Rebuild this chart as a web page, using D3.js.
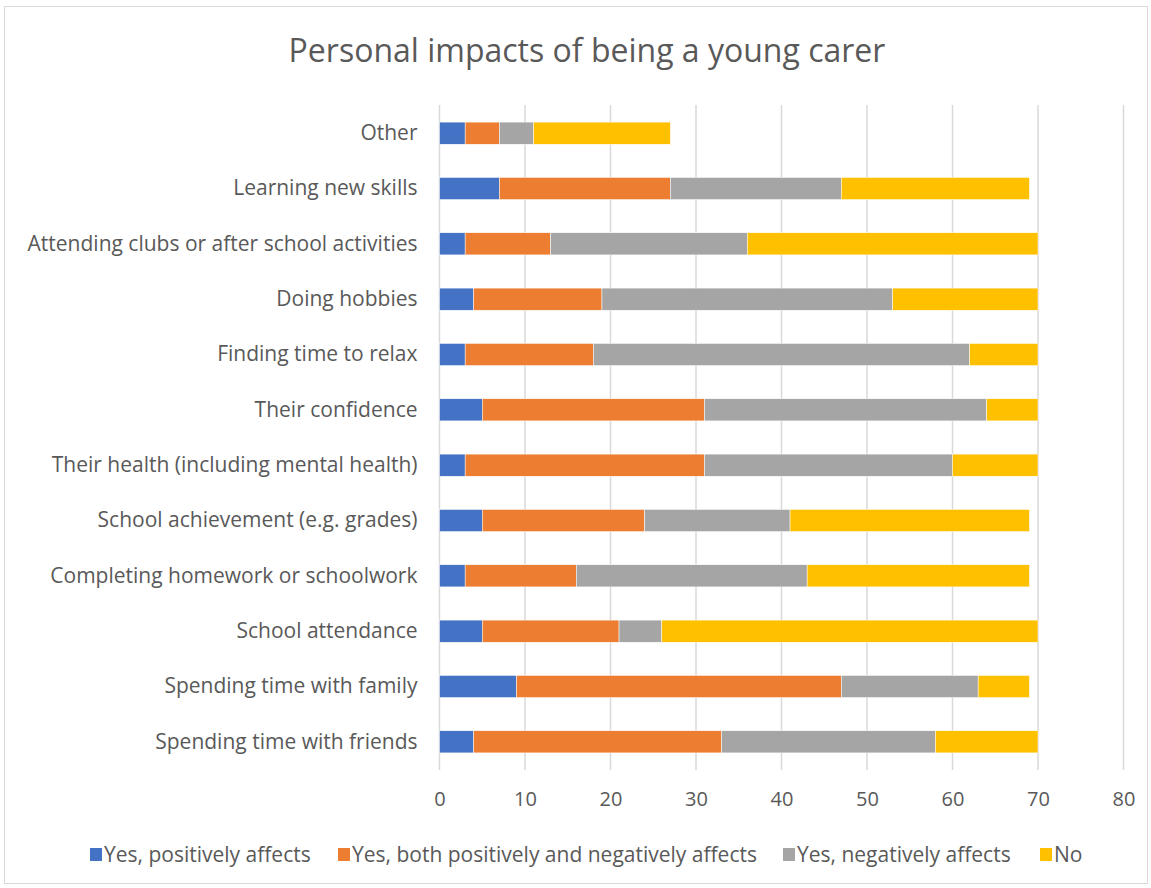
<!DOCTYPE html>
<html><head><meta charset="utf-8">
<script src="https://cdn.jsdelivr.net/npm/d3@7"></script>
<style>html,body{margin:0;padding:0;background:#fff;}</style>
</head><body>
<svg id="chart" width="1151" height="888"></svg>
<script>
const categories = ["Other","Learning new skills","Attending clubs or after school activities","Doing hobbies","Finding time to relax","Their confidence","Their health (including mental health)","School achievement (e.g. grades)","Completing homework or schoolwork","School attendance","Spending time with family","Spending time with friends"];
const seriesNames = ["Yes, positively affects","Yes, both positively and negatively affects","Yes, negatively affects","No"];
const positive = [3,7,3,4,3,5,3,5,3,5,9,4];
const both     = [4,20,10,15,15,26,28,19,13,16,38,29];
const negative = [4,20,23,34,44,33,29,17,27,5,16,25];
const no       = [16,22,34,17,8,6,10,28,26,44,6,12];
const tickValues = [0,10,20,30,40,50,60,70,80];
const colors = ["#4472C4","#ED7D31","#A5A5A5","#FFC000"];

const rows = categories.map((c,i)=>({cat:c, s0:positive[i], s1:both[i], s2:negative[i], s3:no[i]}));
const stack = d3.stack().keys(["s0","s1","s2","s3"])(rows);

const svg = d3.select("#chart");
const font = "'Open Sans', sans-serif";
svg.append("rect").attr("x",4.5).attr("y",6.5).attr("width",1143).attr("height",877)
  .attr("fill","#fff").attr("stroke","#d9d9d9");

const x = d3.scaleLinear().domain([0,80]).range([439.5,1123.5]);
const y = d3.scaleBand().domain(categories).range([105.5,769.5]).paddingInner(0.6).paddingOuter(0.3);

svg.append("text").attr("x",587).attr("y",62).attr("text-anchor","middle")
  .attr("font-family",font).attr("font-size",32).attr("fill","#595959")
  .text("Personal impacts of being a young carer");

// gridlines
svg.append("g").selectAll("line").data(tickValues).join("line")
  .attr("x1",d=>x(d)).attr("x2",d=>x(d)).attr("y1",105).attr("y2",770)
  .attr("stroke","#d9d9d9").attr("stroke-width",1.5);

// bars
svg.append("g").selectAll("g").data(stack).join("g")
  .attr("fill",(d,i)=>colors[i])
  .selectAll("rect").data(d=>d).join("rect")
  .attr("x",d=>x(d[0])).attr("width",d=>x(d[1])-x(d[0]))
  .attr("y",d=>y(d.data.cat)).attr("height",y.bandwidth())
  .attr("stroke","#fff").attr("stroke-width",0.5);

// x axis
const xa = svg.append("g").attr("transform","translate(0,770)")
  .call(d3.axisBottom(x).tickValues(tickValues).tickSize(0).tickPadding(22));
xa.select(".domain").remove();
xa.selectAll("text").attr("font-family",font).attr("font-size",20).attr("fill","#595959");

// y axis
const ya = svg.append("g").attr("transform","translate(439.5,0)")
  .call(d3.axisLeft(y).tickSize(0).tickPadding(22));
ya.select(".domain").remove();
ya.selectAll("text").attr("font-family",font).attr("font-size",21).attr("fill","#595959");

// legend
const legX = [90,338,783,1040];
const lg = svg.append("g").selectAll("g").data(seriesNames).join("g")
  .attr("transform",(d,i)=>`translate(${legX[i]},855)`);
lg.append("rect").attr("x",0).attr("y",-7).attr("width",12).attr("height",13).attr("fill",(d,i)=>colors[i]);
lg.append("text").attr("x",14).attr("y",0).attr("dy","0.35em")
  .attr("font-family",font).attr("font-size",21).attr("fill","#595959").text(d=>d);
</script>
</body></html>
